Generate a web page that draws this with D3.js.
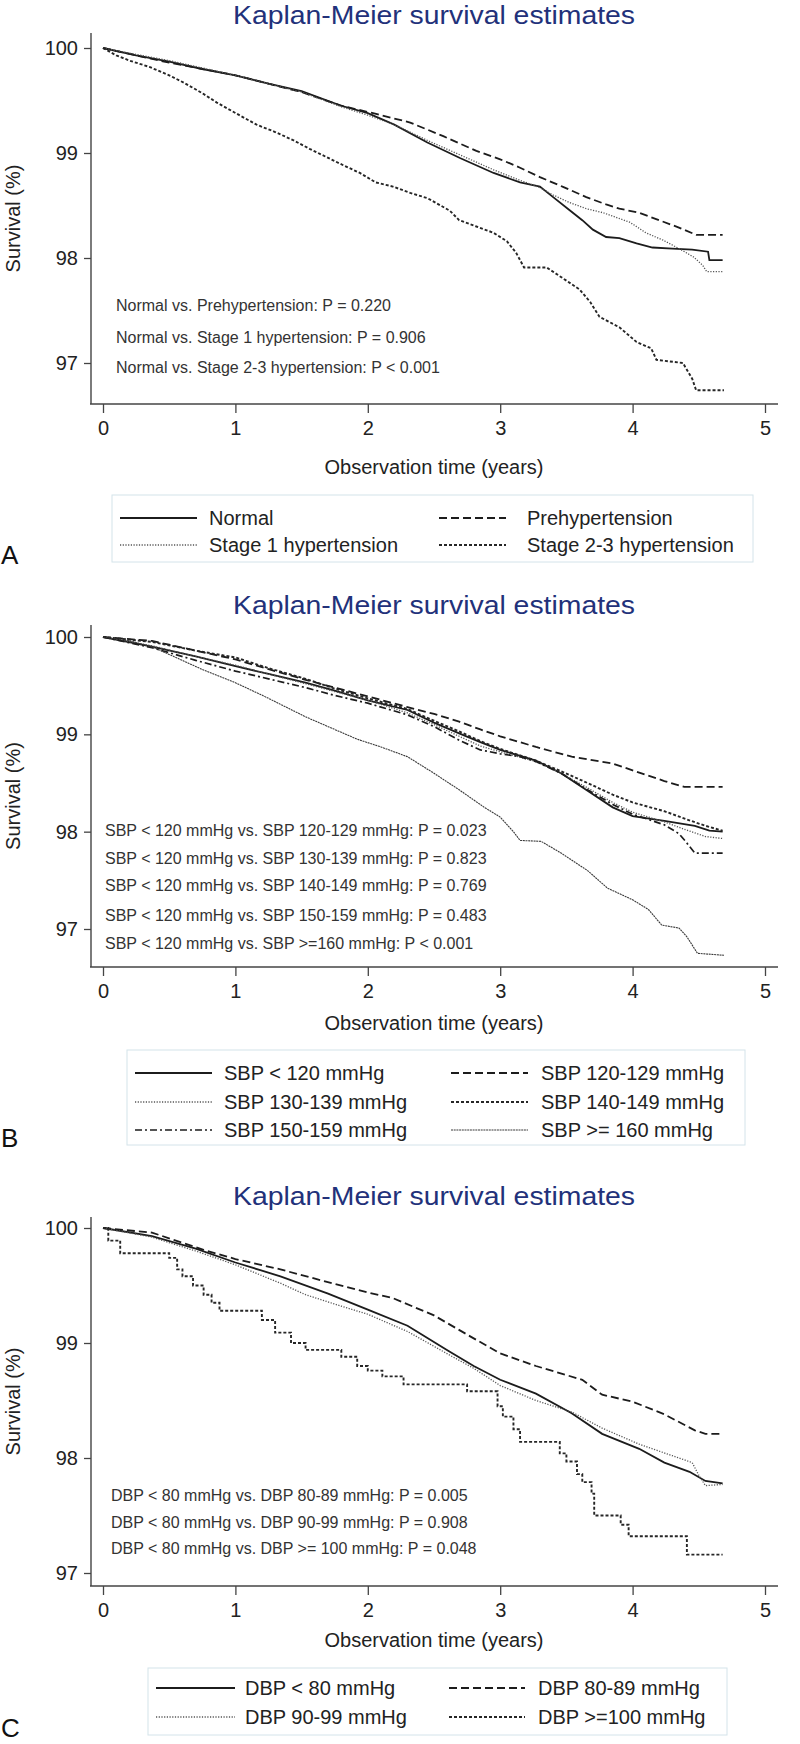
<!DOCTYPE html>
<html><head><meta charset="utf-8">
<script src="https://cdn.jsdelivr.net/npm/d3@7"></script>
<style>body{margin:0;background:#fff}svg{display:block}</style>
</head><body>
<svg id="chart" width="800" height="1744"></svg>
<script>
// ---------------- data ----------------
const panelTitle = "Kaplan-Meier survival estimates";
const xAxisTitle = "Observation time (years)";
const yAxisTitle = "Survival (%)";
const timeTicks = [0, 1, 2, 3, 4, 5];
const survTicks = [97, 98, 99, 100];

// Panel A
const aNames = ["Normal", "Prehypertension", "Stage 1 hypertension", "Stage 2-3 hypertension"];
const aNormal = [[0,100],[0.25,99.93],[0.5,99.87],[0.75,99.8],[1.0,99.74],[1.25,99.66],[1.5,99.59],[1.8,99.45],[2.0,99.38],[2.2,99.27],[2.45,99.1],[2.7,98.95],[2.95,98.81],[3.15,98.72],[3.3,98.68],[3.4,98.58],[3.52,98.46],[3.62,98.36],[3.7,98.27],[3.8,98.2],[3.9,98.19],[4.03,98.14],[4.15,98.1],[4.3,98.09],[4.45,98.08],[4.57,98.06],[4.58,97.98],[4.68,97.98]];
const aPre = [[0,100],[0.25,99.93],[0.5,99.86],[0.75,99.8],[1.0,99.74],[1.25,99.66],[1.5,99.58],[1.8,99.45],[2.07,99.37],[2.32,99.29],[2.57,99.16],[2.82,99.02],[3.0,98.94],[3.15,98.86],[3.3,98.77],[3.47,98.68],[3.65,98.58],[3.8,98.51],[3.9,98.47],[4.05,98.43],[4.2,98.36],[4.35,98.29],[4.48,98.22],[4.68,98.22]];
const aStage1 = [[0,100],[0.25,99.94],[0.5,99.88],[0.75,99.81],[1.0,99.74],[1.25,99.66],[1.5,99.58],[1.8,99.44],[2.0,99.36],[2.2,99.27],[2.45,99.12],[2.7,98.98],[2.95,98.84],[3.15,98.74],[3.3,98.67],[3.4,98.6],[3.52,98.53],[3.65,98.47],[3.78,98.43],[3.98,98.34],[4.1,98.24],[4.23,98.17],[4.35,98.09],[4.46,98.01],[4.53,97.93],[4.56,97.87],[4.68,97.87]];
const aStage23 = [[0,100],[0.1,99.93],[0.2,99.88],[0.35,99.82],[0.5,99.74],[0.61,99.67],[0.75,99.57],[0.86,99.48],[1.03,99.36],[1.16,99.27],[1.3,99.2],[1.44,99.12],[1.56,99.04],[1.69,98.96],[1.82,98.88],[1.94,98.81],[2.06,98.72],[2.19,98.68],[2.32,98.62],[2.45,98.57],[2.55,98.5],[2.62,98.45],[2.69,98.36],[2.82,98.3],[2.95,98.24],[3.05,98.16],[3.12,98.05],[3.18,97.91],[3.35,97.91],[3.47,97.81],[3.6,97.7],[3.68,97.58],[3.75,97.44],[3.9,97.34],[4.03,97.2],[4.14,97.14],[4.18,97.03],[4.38,97.0],[4.45,96.85],[4.48,96.74],[4.69,96.74]];
const aTests = ["Normal vs. Prehypertension: P = 0.220", "Normal vs. Stage 1 hypertension: P = 0.906", "Normal vs. Stage 2-3 hypertension: P < 0.001"];

// Panel B
const bNames = ["SBP < 120 mmHg", "SBP 120-129 mmHg", "SBP 130-139 mmHg", "SBP 140-149 mmHg", "SBP 150-159 mmHg", "SBP >= 160 mmHg"];
const bS120 = [[0,100],[0.37,99.9],[0.7,99.8],[1.0,99.7],[1.25,99.62],[1.53,99.53],[1.75,99.45],[2.0,99.35],[2.3,99.25],[2.5,99.12],[2.69,99.01],[2.85,98.92],[3.0,98.84],[3.27,98.73],[3.46,98.6],[3.66,98.42],[3.85,98.25],[4.0,98.16],[4.24,98.11],[4.47,98.06],[4.58,98.01],[4.68,98.0]];
const bS120to129 = [[0,100],[0.37,99.96],[0.7,99.86],[1.0,99.77],[1.25,99.67],[1.53,99.56],[1.75,99.48],[2.0,99.39],[2.3,99.28],[2.5,99.21],[2.69,99.13],[2.85,99.05],[3.0,98.98],[3.27,98.87],[3.54,98.77],[3.85,98.7],[4.0,98.63],[4.24,98.52],[4.39,98.46],[4.68,98.46]];
const bS130to139 = [[0,100],[0.37,99.91],[0.7,99.8],[1.0,99.71],[1.25,99.62],[1.53,99.52],[1.75,99.44],[2.0,99.35],[2.3,99.22],[2.5,99.1],[2.69,98.98],[2.85,98.88],[3.0,98.82],[3.27,98.72],[3.46,98.6],[3.66,98.45],[3.85,98.3],[4.0,98.2],[4.24,98.1],[4.4,98.02],[4.55,97.95],[4.68,97.93]];
const bS140to149 = [[0,100],[0.37,99.95],[0.7,99.86],[1.0,99.79],[1.25,99.68],[1.53,99.57],[1.75,99.47],[2.0,99.37],[2.3,99.26],[2.5,99.14],[2.69,99.03],[2.85,98.93],[3.0,98.85],[3.27,98.73],[3.46,98.62],[3.66,98.5],[3.85,98.38],[4.0,98.3],[4.24,98.21],[4.4,98.13],[4.55,98.06],[4.68,98.01]];
const bS150to159 = [[0,100],[0.37,99.89],[0.7,99.76],[1.0,99.65],[1.25,99.57],[1.53,99.48],[1.75,99.4],[2.0,99.32],[2.3,99.2],[2.5,99.08],[2.69,98.94],[2.85,98.84],[3.0,98.8],[3.15,98.77],[3.27,98.72],[3.46,98.6],[3.66,98.43],[3.85,98.28],[4.0,98.18],[4.24,98.07],[4.35,97.98],[4.4,97.9],[4.47,97.78],[4.68,97.78]];
const bS160 = [[0,100],[0.2,99.96],[0.37,99.9],[0.55,99.79],[0.76,99.66],[1.0,99.53],[1.22,99.39],[1.53,99.18],[1.75,99.05],[1.92,98.95],[2.1,98.87],[2.3,98.77],[2.5,98.6],[2.69,98.43],[2.88,98.25],[3.0,98.15],[3.1,98.0],[3.15,97.91],[3.31,97.9],[3.46,97.78],[3.66,97.6],[3.81,97.42],[4.0,97.3],[4.12,97.2],[4.22,97.04],[4.35,97.01],[4.41,96.92],[4.49,96.75],[4.69,96.73]];
const bTests = ["SBP < 120 mmHg vs. SBP 120-129 mmHg: P = 0.023", "SBP < 120 mmHg vs. SBP 130-139 mmHg: P = 0.823", "SBP < 120 mmHg vs. SBP 140-149 mmHg: P = 0.769", "SBP < 120 mmHg vs. SBP 150-159 mmHg: P = 0.483", "SBP < 120 mmHg vs. SBP >=160 mmHg: P < 0.001"];

// Panel C
const cNames = ["DBP < 80 mmHg", "DBP 80-89 mmHg", "DBP 90-99 mmHg", "DBP >=100 mmHg"];
const cD80 = [[0,100],[0.37,99.93],[0.7,99.82],[1.0,99.7],[1.34,99.58],[1.7,99.43],[2.0,99.29],[2.3,99.15],[2.61,98.93],[2.8,98.8],[3.0,98.68],[3.27,98.56],[3.54,98.39],[3.77,98.21],[4.05,98.08],[4.24,97.96],[4.43,97.88],[4.55,97.8],[4.68,97.78]];
const cD80to89 = [[0,100],[0.37,99.96],[0.76,99.81],[1.0,99.73],[1.34,99.64],[1.73,99.52],[2.0,99.44],[2.19,99.39],[2.5,99.24],[2.77,99.06],[3.0,98.91],[3.27,98.8],[3.62,98.68],[3.77,98.55],[4.0,98.49],[4.24,98.38],[4.47,98.24],[4.55,98.21],[4.68,98.21]];
const cD90to99 = [[0,100],[0.37,99.92],[0.7,99.8],[1.0,99.68],[1.34,99.52],[1.53,99.42],[1.8,99.32],[2.0,99.25],[2.3,99.1],[2.61,98.9],[2.8,98.78],[3.0,98.63],[3.27,98.5],[3.54,98.4],[3.77,98.26],[4.05,98.12],[4.3,98.02],[4.45,97.96],[4.5,97.85],[4.55,97.76],[4.68,97.77]];
const cD100 = [[0,100],[0.04,99.89],[0.13,99.78],[0.5,99.74],[0.56,99.64],[0.6,99.58],[0.68,99.5],[0.76,99.42],[0.82,99.35],[0.88,99.28],[1.2,99.2],[1.3,99.09],[1.42,99.0],[1.53,98.94],[1.8,98.88],[1.92,98.8],[2.0,98.76],[2.11,98.71],[2.27,98.64],[2.75,98.58],[2.98,98.45],[3.02,98.36],[3.1,98.25],[3.15,98.14],[3.45,98.04],[3.5,97.97],[3.58,97.86],[3.62,97.79],[3.69,97.69],[3.71,97.5],[3.91,97.42],[3.97,97.32],[4.41,97.16],[4.68,97.16]];
const cTests = ["DBP < 80 mmHg vs. DBP 80-89 mmHg: P = 0.005", "DBP < 80 mmHg vs. DBP 90-99 mmHg: P = 0.908", "DBP < 80 mmHg vs. DBP >= 100 mmHg: P = 0.048"];

// ---------------- drawing ----------------
const FONT = "'Liberation Sans', Arial, Helvetica, sans-serif";
const svg = d3.select("#chart");
svg.append("rect").attr("width", 800).attr("height", 1744).attr("fill", "#fff");

const styles = {
  solid:     {dash: null,        w: 1.8, c: "#1c1c1c"},
  longdash:  {dash: "8,4",       w: 1.8, c: "#1c1c1c"},
  dot:       {dash: "1.2,1.5",   w: 1.3, c: "#555"},
  shortdash: {dash: "3,2",       w: 1.9, c: "#262626"},
  dashdot:   {dash: "7,3,2,3",   w: 1.7, c: "#1c1c1c"},
  fine:      {dash: "2,0.7",     w: 1.1, c: "#3a3a3a"}
};

const x = d3.scaleLinear().domain([0, 5]).range([103, 765]);

function panel(cfg) {
  const g = svg.append("g");
  const y = d3.scaleLinear().domain([97, 100]).range([cfg.y97, cfg.y100]);

  // title
  g.append("text").attr("x", 233).attr("y", cfg.titleY).attr("text-anchor", "start")
    .attr("textLength", 402).attr("lengthAdjust", "spacingAndGlyphs")
    .attr("font-family", FONT).attr("font-size", 25).attr("fill", "#22317a").text(panelTitle);

  // y axis
  const ya = g.append("g").attr("transform", "translate(91,0)")
    .call(d3.axisLeft(y).tickValues(survTicks).tickSize(7).tickPadding(6).tickFormat(d3.format("d")));
  ya.select(".domain").remove();
  ya.selectAll("line").attr("stroke", "#444").attr("stroke-width", 1.3);
  ya.selectAll("text").attr("font-family", FONT).attr("font-size", 20).attr("fill", "#222");
  g.append("line").attr("x1", 91).attr("x2", 91).attr("y1", cfg.axisTop).attr("y2", cfg.axisBottom)
    .attr("stroke", "#444").attr("stroke-width", 1.4);

  // x axis
  const xa = g.append("g").attr("transform", `translate(0,${cfg.axisBottom})`)
    .call(d3.axisBottom(x).tickValues(timeTicks).tickSize(9).tickPadding(8).tickFormat(d3.format("d")));
  xa.select(".domain").remove();
  xa.selectAll("line").attr("stroke", "#444").attr("stroke-width", 1.3);
  xa.selectAll("text").attr("font-family", FONT).attr("font-size", 20).attr("fill", "#222");
  g.append("line").attr("x1", 90).attr("x2", 778).attr("y1", cfg.axisBottom).attr("y2", cfg.axisBottom)
    .attr("stroke", "#444").attr("stroke-width", 1.4);

  // axis titles
  g.append("text").attr("x", 434).attr("y", cfg.xTitleY).attr("text-anchor", "middle")
    .attr("dominant-baseline", "central").attr("font-family", FONT).attr("font-size", 20)
    .attr("fill", "#222").text(xAxisTitle);
  const ymid = (cfg.axisTop + cfg.axisBottom) / 2;
  g.append("text").attr("transform", `translate(13,${ymid}) rotate(-90)`).attr("text-anchor", "middle")
    .attr("dominant-baseline", "central").attr("font-family", FONT).attr("font-size", 20)
    .attr("fill", "#222").text(yAxisTitle);

  // curves
  cfg.series.forEach(s => {
    const st = styles[s.style];
    const line = d3.line().x(d => x(d[0])).y(d => y(d[1]))
      .curve(s.step ? d3.curveStepAfter : d3.curveLinear);
    g.append("path").attr("d", line(s.data)).attr("fill", "none")
      .attr("stroke", st.c).attr("stroke-width", st.w)
      .attr("stroke-dasharray", st.dash).attr("stroke-linejoin", "miter");
  });

  // annotations
  cfg.tests.forEach((t, i) => {
    g.append("text").attr("x", cfg.annX).attr("y", cfg.annY[i]).attr("dominant-baseline", "central")
      .attr("font-family", FONT).attr("font-size", 16).attr("fill", "#333").text(t);
  });

  // legend
  const L = cfg.legend;
  g.append("rect").attr("x", L.left).attr("y", L.top).attr("width", L.right - L.left)
    .attr("height", L.bottom - L.top).attr("fill", "#fff").attr("stroke", "#d4e3ea").attr("stroke-width", 1);
  cfg.series.forEach((s, i) => {
    const col = i % 2 === 0 ? L.c1 : L.c2;
    const ry = L.rows[Math.floor(i / 2)];
    const st = styles[s.style];
    g.append("line").attr("x1", col[0]).attr("x2", col[1]).attr("y1", ry).attr("y2", ry)
      .attr("stroke", st.c).attr("stroke-width", st.w).attr("stroke-dasharray", st.dash);
    g.append("text").attr("x", col[2]).attr("y", ry).attr("dominant-baseline", "central")
      .attr("font-family", FONT).attr("font-size", 20).attr("fill", "#222").text(s.name);
  });

  // panel letter
  g.append("text").attr("x", 1).attr("y", cfg.letterY).attr("font-family", FONT)
    .attr("font-size", 26).attr("fill", "#111").text(cfg.letter);
}

panel({
  letter: "A", letterY: 564, titleY: 24, y100: 48, y97: 363, axisTop: 33, axisBottom: 404, xTitleY: 467,
  series: [
    {name: aNames[0], data: aNormal, style: "solid"},
    {name: aNames[1], data: aPre, style: "longdash"},
    {name: aNames[2], data: aStage1, style: "dot"},
    {name: aNames[3], data: aStage23, style: "shortdash"}
  ],
  tests: aTests, annX: 116, annY: [305, 337, 367],
  legend: {left: 112, right: 753, top: 495, bottom: 562, rows: [518, 545], c1: [120, 197, 209], c2: [439, 506, 527]}
});

panel({
  letter: "B", letterY: 1147, titleY: 614, y100: 637, y97: 929, axisTop: 625, axisBottom: 967, xTitleY: 1023,
  series: [
    {name: bNames[0], data: bS120, style: "solid"},
    {name: bNames[1], data: bS120to129, style: "longdash"},
    {name: bNames[2], data: bS130to139, style: "dot"},
    {name: bNames[3], data: bS140to149, style: "shortdash"},
    {name: bNames[4], data: bS150to159, style: "dashdot"},
    {name: bNames[5], data: bS160, style: "fine"}
  ],
  tests: bTests, annX: 105, annY: [830, 858, 885, 915, 943],
  legend: {left: 127, right: 745, top: 1050, bottom: 1145, rows: [1073, 1102, 1130], c1: [135, 212, 224], c2: [451, 528, 541]}
});

panel({
  letter: "C", letterY: 1737, titleY: 1205, y100: 1228, y97: 1573, axisTop: 1217, axisBottom: 1586, xTitleY: 1640,
  series: [
    {name: cNames[0], data: cD80, style: "solid"},
    {name: cNames[1], data: cD80to89, style: "longdash"},
    {name: cNames[2], data: cD90to99, style: "dot"},
    {name: cNames[3], data: cD100, style: "shortdash", step: true}
  ],
  tests: cTests, annX: 111, annY: [1495, 1522, 1548],
  legend: {left: 148, right: 727, top: 1668, bottom: 1735, rows: [1688, 1717], c1: [156, 235, 245], c2: [449, 525, 538]}
});
</script>
</body></html>
